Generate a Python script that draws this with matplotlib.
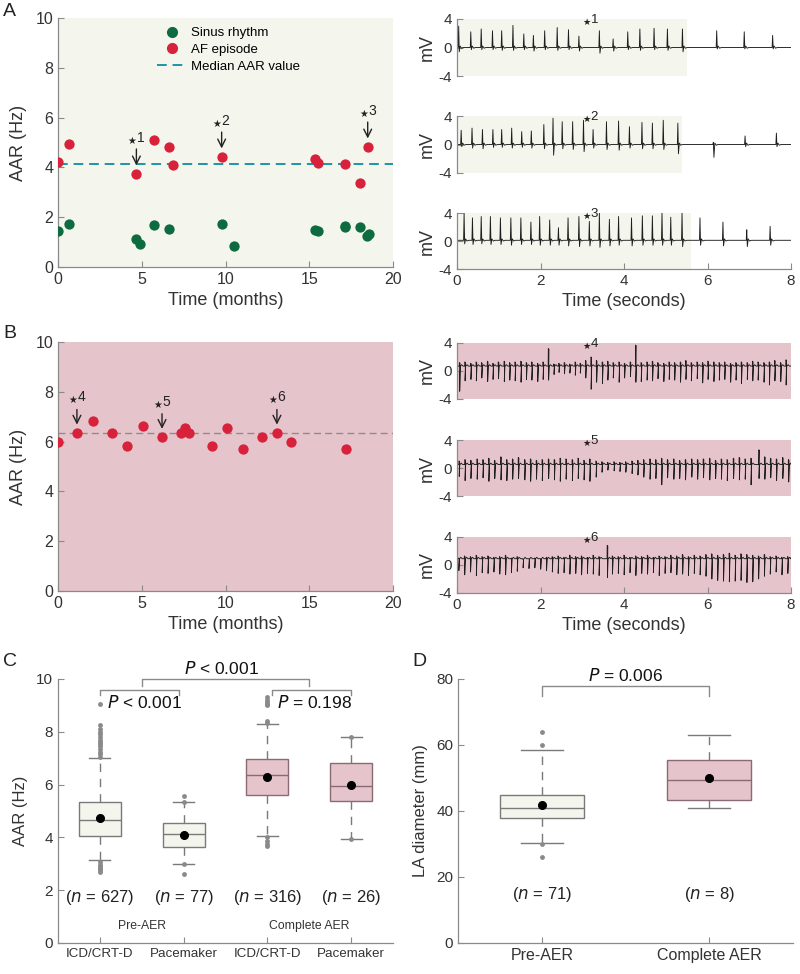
import numpy as np
import matplotlib
matplotlib.use("Agg")
import matplotlib.pyplot as plt
from matplotlib.lines import Line2D

plt.rcParams['font.family'] = ['Liberation Sans', 'DejaVu Sans']
plt.rcParams['mathtext.fontset'] = 'dejavusans'

# ---------------- DATA ----------------
# Panel A: AAR over time (months)
a_af_t = [0.0, 0.64, 4.68, 5.73, 6.63, 6.85, 9.77, 15.32, 15.52, 17.15, 18.0, 18.49]
a_af_v = [4.23, 4.94, 3.75, 5.10, 4.83, 4.08, 4.43, 4.32, 4.19, 4.15, 3.36, 4.83]
a_sr_t = [0.0, 0.64, 4.66, 4.90, 5.71, 6.61, 9.77, 10.49, 15.34, 15.52, 17.15, 17.15, 18.0, 18.45, 18.57]
a_sr_v = [1.44, 1.72, 1.11, 0.93, 1.69, 1.52, 1.72, 0.86, 1.49, 1.44, 1.65, 1.62, 1.61, 1.24, 1.31]
a_median = 4.15
a_marks_t = [4.68, 9.77, 18.49]
a_marks_v = [3.75, 4.43, 4.83]
a_marks_lab = ['1', '2', '3']

# Panel B
b_af_t = [0.0, 1.13, 2.09, 3.24, 4.12, 5.07, 6.21, 7.32, 7.56, 7.82, 9.17, 10.11, 11.02, 12.18, 13.07, 13.93, 17.21]
b_af_v = [5.99, 6.35, 6.82, 6.35, 5.81, 6.63, 6.18, 6.35, 6.54, 6.35, 5.81, 6.54, 5.72, 6.18, 6.35, 5.99, 5.72]
b_median = 6.35
b_marks_t = [1.13, 6.21, 13.07]
b_marks_v = [6.35, 6.18, 6.35]
b_marks_lab = ['4', '5', '6']

# EGM traces (spike times in s, peak and trough in mV)
t1 = [0.04, 0.33, 0.58, 0.85, 1.07, 1.34, 1.60, 1.83, 2.10, 2.40, 2.67, 2.92, 3.41, 3.74, 4.09, 4.38, 4.72, 5.04, 5.40, 6.22, 6.88, 7.56]
up1 = [3.0, 2.2, 2.6, 2.35, 2.35, 3.1, 1.9, 1.7, 2.35, 2.8, 2.5, 1.6, 2.35, 1.2, 2.2, 2.6, 2.7, 2.6, 2.6, 2.35, 2.2, 1.7]
dn1 = [-0.6, -0.3, -0.3, -0.3, -0.4, -0.4, -0.3, -0.5, -0.3, -0.4, -0.3, -0.5, -0.8, -0.5, -0.3, -0.4, -0.3, -0.4, -0.6, -0.2, -0.2, -0.2]
af_end1 = 5.5

t2 = [0.10, 0.36, 0.61, 0.86, 1.07, 1.31, 1.55, 1.78, 2.08, 2.30, 2.52, 2.77, 3.03, 3.26, 3.58, 3.87, 4.13, 4.43, 4.68, 4.94, 5.29, 6.14, 6.90, 7.65]
up2 = [2.0, 2.3, 2.1, 2.1, 2.1, 2.3, 1.8, 1.9, 2.8, 3.7, 3.2, 3.2, 3.4, 2.1, 3.2, 3.3, 2.5, 3.1, 3.0, 3.4, 3.0, 0.3, 1.2, 1.6]
dn2 = [-0.3, -0.5, -0.6, -0.4, -0.4, -0.5, -0.4, -0.5, -0.6, -1.5, -0.6, -0.7, -1.0, -0.5, -0.7, -0.8, -0.5, -0.6, -0.6, -0.7, -1.3, -1.8, -0.3, -0.3]
af_end2 = 5.4

t3 = [0.17, 0.37, 0.58, 0.80, 1.04, 1.29, 1.53, 1.77, 1.98, 2.22, 2.43, 2.66, 2.92, 3.17, 3.41, 3.65, 3.87, 4.18, 4.44, 4.68, 4.91, 5.12, 5.39, 5.82, 6.37, 6.94, 7.50]
up3 = [4.0, 3.3, 3.5, 3.5, 3.3, 3.3, 3.3, 2.7, 3.5, 3.0, 1.9, 3.3, 3.5, 2.8, 4.0, 3.1, 3.5, 3.3, 3.6, 3.6, 4.0, 3.4, 4.0, 3.3, 2.7, 1.6, 2.1]
dn3 = [-0.4, -0.5, -0.4, -0.5, -0.5, -0.6, -0.5, -0.5, -0.6, -0.6, -0.6, -0.7, -0.8, -0.7, -0.9, -0.7, -0.6, -0.7, -0.6, -0.6, -0.6, -0.6, -0.8, -0.6, -0.7, -0.8, -0.6]
af_end3 = 5.6

t4 = [0.06, 0.19, 0.33, 0.46, 0.59, 0.73, 0.86, 0.99, 1.13, 1.26, 1.39, 1.53, 1.66, 1.79, 1.93, 2.06, 2.19, 2.32, 2.44, 2.57,
      2.70, 2.83, 2.95, 3.08, 3.21, 3.34, 3.48, 3.61, 3.74, 3.88, 4.01, 4.15, 4.28, 4.41, 4.55, 4.68, 4.81, 4.95, 5.08, 5.21,
      5.35, 5.48, 5.61, 5.75, 5.88, 6.01, 6.15, 6.28, 6.41, 6.55, 6.68, 6.81, 6.95, 7.08, 7.21, 7.35, 7.48, 7.61, 7.75, 7.88]
up4 = [1.2, 1.3, 1.1, 1.3, 1.2, 1.4, 1.1, 1.3, 1.4, 1.2, 1.3, 1.4, 1.2, 1.3, 1.1, 1.3, 3.2, 1.0, 1.1, 1.2,
       1.0, 1.3, 1.1, 1.5, 2.0, 1.5, 1.3, 1.4, 1.2, 1.3, 1.1, 1.3, 3.7, 1.2, 1.3, 1.4, 1.2, 1.1, 1.3, 1.2,
       1.3, 1.5, 1.2, 1.3, 1.2, 1.4, 1.3, 1.2, 1.3, 1.1, 1.2, 1.3, 1.2, 1.4, 1.3, 1.2, 1.3, 1.5, 1.2, 1.6]
dn4 = [-2.9, -1.4, -1.2, -1.4, -1.0, -1.5, -1.2, -1.1, -1.5, -1.3, -1.4, -1.6, -1.2, -1.3, -1.5, -1.2, -1.3, -0.5, -0.2, -0.4,
       -0.3, -0.6, -0.3, -1.0, -2.6, -1.6, -1.8, -1.3, -1.0, -1.6, -1.0, -0.8, -1.6, -1.5, -1.3, -1.4, -1.1, -1.5, -1.2, -1.3,
       -1.6, -1.2, -1.4, -1.1, -1.7, -1.2, -1.5, -1.3, -1.2, -1.6, -1.3, -1.8, -1.2, -1.4, -1.3, -1.6, -2.0, -1.4, -1.5, -2.0]

t5 = [0.05, 0.19, 0.33, 0.48, 0.62, 0.76, 0.90, 1.05, 1.19, 1.33, 1.47, 1.62, 1.76, 1.90, 2.04, 2.19, 2.33, 2.47, 2.61, 2.76,
      2.90, 3.04, 3.18, 3.33, 3.47, 3.61, 3.76, 3.90, 4.04, 4.19, 4.33, 4.47, 4.62, 4.76, 4.90, 5.04, 5.19, 5.33, 5.47, 5.62,
      5.76, 5.90, 6.05, 6.19, 6.33, 6.47, 6.62, 6.76, 6.90, 7.04, 7.23, 7.37, 7.51, 7.65, 7.80, 7.94]
up5 = [1.0, 1.2, 1.1, 1.3, 1.2, 1.4, 1.1, 1.6, 1.2, 1.3, 1.5, 1.2, 1.3, 1.1, 1.2, 1.3, 1.2, 1.4, 1.3, 1.2,
       1.4, 1.1, 1.3, 1.0, 0.9, 0.8, 0.9, 0.8, 0.9, 1.0, 1.1, 1.2, 1.3, 1.2, 1.4, 1.2, 1.3, 1.1, 1.2, 1.3,
       1.2, 1.3, 1.4, 1.1, 1.3, 1.2, 1.4, 1.5, 1.3, 1.4, 2.6, 1.6, 1.4, 1.3, 1.5, 1.2]
dn5 = [-1.2, -1.8, -1.5, -1.6, -1.4, -1.9, -1.5, -1.7, -1.8, -1.6, -1.5, -1.7, -1.9, -1.6, -1.8, -1.5, -1.7, -1.9, -1.6, -1.8,
       -1.5, -1.7, -1.9, -1.3, -0.6, -0.3, -0.4, -0.5, -0.6, -0.8, -1.0, -1.3, -1.6, -1.5, -2.4, -1.4, -1.6, -1.5, -1.7, -1.3,
       -1.6, -1.4, -1.7, -1.5, -1.6, -1.8, -1.5, -1.7, -1.6, -2.4, -1.5, -1.6, -1.4, -1.8, -1.5, -2.0]

t6 = [0.04, 0.18, 0.32, 0.46, 0.60, 0.74, 0.88, 1.02, 1.16, 1.30, 1.44, 1.58, 1.72, 1.86, 2.00, 2.14, 2.28, 2.42, 2.56, 2.70,
      2.84, 2.98, 3.12, 3.26, 3.40, 3.60, 3.72, 3.86, 4.00, 4.14, 4.28, 4.42, 4.56, 4.70, 4.84, 4.98, 5.12, 5.26, 5.40, 5.54,
      5.68, 5.82, 5.96, 6.10, 6.24, 6.38, 6.52, 6.66, 6.80, 6.94, 7.08, 7.22, 7.36, 7.50, 7.64, 7.78, 7.92]
up6 = [1.0, 1.3, 1.2, 1.4, 1.2, 1.3, 1.1, 1.2, 1.4, 1.0, 1.2, 0.8, 0.9, 1.0, 0.9, 1.1, 1.2, 1.3, 1.1, 1.4,
       1.2, 1.3, 1.1, 1.4, 1.2, 2.8, 1.3, 1.2, 1.4, 1.1, 1.3, 1.2, 1.4, 1.1, 1.3, 1.2, 1.4, 1.3, 1.5, 1.2,
       1.4, 1.3, 1.5, 1.6, 1.4, 1.5, 1.7, 1.4, 1.6, 1.5, 1.4, 1.3, 1.5, 1.2, 1.3, 1.1, 1.2]
dn6 = [-0.8, -1.4, -1.0, -1.5, -1.1, -1.2, -1.0, -1.3, -1.4, -1.1, -0.9, -0.4, -0.5, -0.4, -0.6, -0.8, -1.0, -1.2, -1.1, -1.3,
       -1.2, -1.4, -1.2, -1.3, -1.5, -1.8, -1.3, -1.2, -1.4, -1.1, -1.5, -1.2, -1.3, -1.1, -1.5, -1.2, -1.1, -1.4, -1.3, -1.5,
       -1.2, -1.4, -1.6, -2.0, -2.2, -2.3, -2.4, -2.3, -2.2, -2.5, -2.4, -2.0, -1.6, -1.3, -1.0, -1.4, -1.2]

# Panel C: AAR boxplots
c_labels = ['ICD/CRT-D', 'Pacemaker', 'ICD/CRT-D', 'Pacemaker']
c_q1 = [4.07, 3.65, 5.62, 5.38]
c_med = [4.65, 4.13, 6.35, 5.95]
c_q3 = [5.35, 4.53, 6.97, 6.83]
c_whislo = [3.15, 3.0, 4.05, 3.93]
c_whishi = [7.0, 5.35, 8.3, 7.8]
c_mean = [4.75, 4.1, 6.28, 5.98]
c_fliers = [
    [7.05, 7.15, 7.25, 7.35, 7.45, 7.55, 7.62, 7.7, 7.8, 7.9, 8.0, 8.1, 8.25, 9.05,
     3.05, 2.97, 2.9, 2.85, 2.8, 2.75, 2.7],
    [5.55, 5.35, 3.0, 2.6],
    [8.35, 8.42, 9.0, 9.07, 9.14, 9.22, 9.3, 4.0, 3.85, 3.75, 3.68],
    [7.8, 3.93],
]
c_n = [627, 77, 316, 26]

# Panel D: LA diameter
d_labels = ['Pre-AER', 'Complete AER']
d_q1 = [38.0, 43.3]
d_med = [40.8, 49.4]
d_q3 = [44.8, 55.4]
d_whislo = [30.2, 40.8]
d_whishi = [58.5, 63.0]
d_mean = [41.8, 50.0]
d_fliers = [[64.0, 59.9, 30.0, 26.0], []]
d_n = [71, 8]

# ---------------- STYLE ----------------
GREEN_BG = '#f4f6ee'
PINK_BG = '#e6c4cb'
RED = '#d8213b'
DKGREEN = '#0e6b3f'
SPINE = '#8a8a8a'
TXT = '#333333'
STAR = r'$_{\bigstar}$'

fig = plt.figure(figsize=(8, 9.74), dpi=100)


def fr(l, t, r, b):
    W, H = 800.0, 974.0
    return [l / W, 1 - b / H, (r - l) / W, (b - t) / H]


def style_ax(ax, fs=11.5):
    for s in ['top', 'right']:
        ax.spines[s].set_visible(False)
    for s in ['left', 'bottom']:
        ax.spines[s].set_color(SPINE)
        ax.spines[s].set_linewidth(0.9)
    ax.tick_params(direction='in', color=SPINE, labelcolor=TXT, labelsize=fs, length=4)


def star_label(ax, x, y, lab, fs=10):
    ax.text(x, y, STAR + lab, ha='center', va='bottom', fontsize=fs, color='#222222')


# ---- Panel A left ----
axA = fig.add_axes(fr(58, 18, 393, 267))
axA.set_facecolor(GREEN_BG)
style_ax(axA)
axA.axhline(a_median, color='#1f94a8', ls=(0, (5, 3)), lw=1.4, zorder=1)
axA.scatter(a_sr_t, a_sr_v, s=55, color=DKGREEN, zorder=3, linewidths=0)
axA.scatter(a_af_t, a_af_v, s=55, color=RED, zorder=3, linewidths=0)
for x, y, lab in zip(a_marks_t, a_marks_v, a_marks_lab):
    axA.annotate('', xy=(x, y + 0.22), xytext=(x, y + 1.1),
                 arrowprops=dict(arrowstyle='->', color='#222222', lw=1.0, mutation_scale=14))
    star_label(axA, x, y + 1.12, lab)
axA.set_xlim(0, 20)
axA.set_ylim(0, 10)
axA.set_xticks([0, 5, 10, 15, 20])
axA.set_yticks([0, 2, 4, 6, 8, 10])
axA.set_xlabel('Time (months)', fontsize=13, color=TXT, labelpad=4)
axA.set_ylabel('AAR (Hz)', fontsize=13, color=TXT, labelpad=6)
handles = [Line2D([], [], marker='o', color=DKGREEN, ls='none', markersize=7),
           Line2D([], [], marker='o', color=RED, ls='none', markersize=7),
           Line2D([], [], color='#1f94a8', ls=(0, (5, 3)), lw=1.4)]
axA.legend(handles, ['Sinus rhythm', 'AF episode', 'Median AAR value'], loc='upper left',
           bbox_to_anchor=(0.28, 0.985), frameon=False, fontsize=9.5, handlelength=2.3,
           handletextpad=0.3, labelspacing=0.35, borderaxespad=0)

# ---- Panel B left ----
axB = fig.add_axes(fr(58, 342, 393, 591))
axB.set_facecolor(PINK_BG)
style_ax(axB)
axB.axhline(b_median, color='#8c8c8c', ls=(0, (5, 3)), lw=1.0, zorder=1)
axB.scatter(b_af_t, b_af_v, s=55, color=RED, zorder=3, linewidths=0)
for x, y, lab in zip(b_marks_t, b_marks_v, b_marks_lab):
    axB.annotate('', xy=(x, y + 0.22), xytext=(x, y + 1.05),
                 arrowprops=dict(arrowstyle='->', color='#222222', lw=1.0, mutation_scale=14))
    star_label(axB, x, y + 1.1, lab)
axB.set_xlim(0, 20)
axB.set_ylim(0, 10)
axB.set_xticks([0, 5, 10, 15, 20])
axB.set_yticks([0, 2, 4, 6, 8, 10])
axB.set_xlabel('Time (months)', fontsize=13, color=TXT, labelpad=4)
axB.set_ylabel('AAR (Hz)', fontsize=13, color=TXT, labelpad=6)


# ---- Traces ----
def path_af(times, ups, dns, base=0.0):
    xs, ys = [0.0], [base]
    for t, u, d in zip(times, ups, dns):
        xs += [t - 0.012, t, t + 0.014, t + 0.035, t + 0.07, t + 0.11]
        ys += [base, u, d, base + 0.2, base - 0.1, base]
    xs.append(8.0)
    ys.append(base)
    return xs, ys


def path_saw(times, ups, dns, base):
    xs, ys = [0.0], [base]
    for t, u, d in zip(times, ups, dns):
        xs += [t - 0.006, t - 0.002, t + 0.012, t + 0.004, t + 0.016, t + 0.05, t + 0.085]
        ys += [base, u, u - 0.1, d, base - 0.05, base + 0.2, base]
    xs.append(8.0)
    ys.append(base)
    return xs, ys


def trace_ax(rect, times, ups, dns, kind, bg, af_end=None, base=0.0, bottom=False, lab=None):
    ax = fig.add_axes(rect)
    style_ax(ax, fs=11)
    if kind == 'af':
        ax.set_facecolor('white')
        ax.axvspan(0, af_end, color=GREEN_BG, zorder=0, lw=0)
        xs, ys = path_af(times, ups, dns, base)
    else:
        ax.set_facecolor(bg)
        xs, ys = path_saw(times, ups, dns, base)
    ax.plot(xs, ys, color='#1e1e1e', lw=0.65, zorder=2)
    ax.set_xlim(0, 8)
    ax.set_ylim(-4, 4)
    ax.set_yticks([-4, 0, 4])
    ax.set_yticklabels(['-4', '0', '4'])
    ax.set_ylabel('mV', fontsize=13, color=TXT, labelpad=2)
    if bottom:
        ax.set_xticks([0, 2, 4, 6, 8])
        ax.set_xlabel('Time (seconds)', fontsize=13, color=TXT, labelpad=4)
    else:
        ax.spines['bottom'].set_visible(False)
        ax.set_xticks([])
    if lab is not None:
        ax.text(3.2, 2.9, STAR + lab, ha='center', va='bottom', fontsize=9.5, color='#222222')
    return ax


trace_ax(fr(457, 19, 791, 76), t1, up1, dn1, 'af', None, af_end1, 0.0, False, '1')
trace_ax(fr(457, 116, 791, 173), t2, up2, dn2, 'af', None, af_end2, 0.0, False, '2')
trace_ax(fr(457, 213, 791, 269), t3, up3, dn3, 'af', None, af_end3, 0.1, True, '3')
trace_ax(fr(457, 343, 791, 399), t4, up4, dn4, 'saw', PINK_BG, None, 0.7, False, '4')
trace_ax(fr(457, 440, 791, 496), t5, up5, dn5, 'saw', PINK_BG, None, 0.5, False, '5')
trace_ax(fr(457, 537, 791, 593), t6, up6, dn6, 'saw', PINK_BG, None, 0.9, True, '6')


# ---- Box plot helper ----
def make_stats(q1, med, q3, lo, hi, mean, fliers):
    out = []
    for i in range(len(q1)):
        out.append(dict(q1=q1[i], med=med[i], q3=q3[i], whislo=lo[i], whishi=hi[i],
                        mean=mean[i], fliers=fliers[i]))
    return out


def draw_boxes(ax, stats, faces, edges):
    pos = list(range(1, len(stats) + 1))
    bp = ax.bxp(stats, positions=pos, widths=0.5, capwidths=0.25, patch_artist=True,
                showmeans=True, showfliers=True,
                whiskerprops=dict(color='#7a7a7a', ls=(0, (6, 5)), lw=1.0),
                capprops=dict(color='#7a7a7a', lw=1.0),
                flierprops=dict(marker='o', markersize=3.5, markerfacecolor='#8a8a8a',
                                markeredgecolor='none'),
                meanprops=dict(marker='o', markersize=5.5, markerfacecolor='black',
                               markeredgecolor='black'),
                medianprops=dict(lw=1.0))
    for i, b in enumerate(bp['boxes']):
        b.set_facecolor(faces[i])
        b.set_edgecolor(edges[i])
        b.set_linewidth(1.0)
        bp['medians'][i].set_color(edges[i])
    return bp


def bracket(ax, x0, x1, y, drop, color='#8a8a8a'):
    ax.plot([x0, x0, x1, x1], [y - drop, y, y, y - drop], color=color, lw=1.0, clip_on=False)


# ---- Panel C ----
axC = fig.add_axes(fr(58, 679, 393, 943))
style_ax(axC, fs=11)
statsC = make_stats(c_q1, c_med, c_q3, c_whislo, c_whishi, c_mean, c_fliers)
draw_boxes(axC, statsC, [GREEN_BG, GREEN_BG, PINK_BG, PINK_BG],
           ['#7a7a7a', '#7a7a7a', '#8c6a72', '#8c6a72'])
axC.set_xlim(0.5, 4.5)
axC.set_ylim(0, 10)
axC.set_yticks([0, 2, 4, 6, 8, 10])
axC.set_xticks([1, 2, 3, 4])
axC.set_xticklabels(c_labels, fontsize=9.6)
axC.set_ylabel('AAR (Hz)', fontsize=12, color=TXT, labelpad=6)
for i, n in enumerate(c_n):
    axC.text(i + 1, 1.72, r'($\it{n}$ = %d)' % n, ha='center', va='center', fontsize=12, color='#222222')
axC.text(1.5, 0.64, 'Pre-AER', ha='center', va='center', fontsize=8.8, color=TXT)
axC.text(3.5, 0.64, 'Complete AER', ha='center', va='center', fontsize=8.8, color=TXT)
bracket(axC, 1.5, 3.5, 10.0, 0.25)
bracket(axC, 1.0, 1.95, 9.58, 0.2)
bracket(axC, 3.05, 4.0, 9.58, 0.2)
axC.text(2.45, 10.4, r'$\it{P}$ < 0.001', ha='center', va='center', fontsize=12.5, color='#111111')
axC.text(1.08, 9.1, r'$\it{P}$ < 0.001', ha='left', va='center', fontsize=12.5, color='#111111')
axC.text(3.12, 9.1, r'$\it{P}$ = 0.198', ha='left', va='center', fontsize=12.5, color='#111111')

# ---- Panel D ----
axD = fig.add_axes(fr(458, 679, 793, 943))
style_ax(axD, fs=11)
statsD = make_stats(d_q1, d_med, d_q3, d_whislo, d_whishi, d_mean, d_fliers)
draw_boxes(axD, statsD, [GREEN_BG, PINK_BG], ['#7a7a7a', '#8c6a72'])
axD.set_xlim(0.5, 2.5)
axD.set_ylim(0, 80)
axD.set_yticks([0, 20, 40, 60, 80])
axD.set_xticks([1, 2])
axD.set_xticklabels(d_labels, fontsize=11.5)
axD.set_ylabel('LA diameter (mm)', fontsize=12, color=TXT, labelpad=6)
for i, n in enumerate(d_n):
    axD.text(i + 1, 14.6, r'($\it{n}$ = %d)' % n, ha='center', va='center', fontsize=12, color='#222222')
bracket(axD, 1.0, 2.0, 78.0, 3.0)
axD.text(1.5, 81.2, r'$\it{P}$ = 0.006', ha='center', va='center', fontsize=12.5, color='#111111')

# ---- Panel letters ----
for lab, x, y in [('A', 3, 3), ('B', 3, 325), ('C', 3, 653), ('D', 412, 653)]:
    fig.text(x / 800.0, 1 - y / 974.0, lab, ha='left', va='top', fontsize=14, color='#222222')

fig.savefig('out.png', dpi=100)
